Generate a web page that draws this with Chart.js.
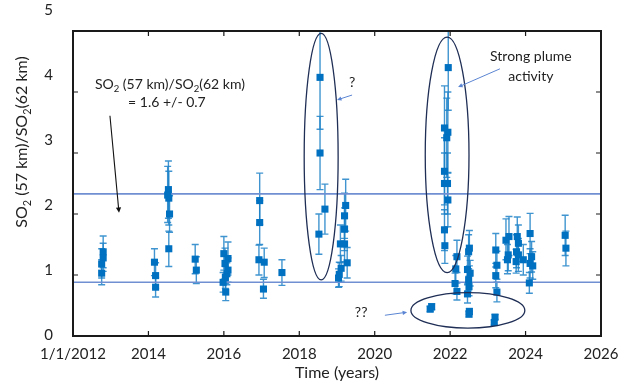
<!DOCTYPE html>
<html lang="en">
  <head>
    <meta charset="UTF-8" />
    <title>SO2 ratio 57 km / 62 km</title>
    <script src="https://cdn.jsdelivr.net/npm/chart.js"></script>
    <style>
      body { margin: 0; background: #fff; }
      canvas { display: block; }
    </style>
  </head>
  <body>
    <canvas id="ratio-chart" width="624" height="385"></canvas>

    <script>
      // observation time (decimal year), SO2 ratio, error bar bounds
      const years = [
        2012.80, 2012.80, 2012.76, 2012.76,
        2014.16, 2014.19, 2014.19,
        2014.53, 2014.51, 2014.54, 2014.56, 2014.54,
        2015.24, 2015.27,
        2016.00, 2016.11, 2016.03, 2016.11, 2016.08, 2016.04, 2015.98, 2016.05,
        2016.95, 2016.95, 2016.93, 2017.07, 2017.05,
        2017.54,
        2018.55, 2018.55, 2018.52, 2018.68,
        2019.23, 2019.20, 2019.20, 2019.09, 2019.20, 2019.27, 2019.11, 2019.06, 2019.04,
        2021.95, 2021.85, 2021.94, 2021.91, 2021.85, 2021.85, 2021.93, 2021.94, 2021.85, 2021.86,
        2022.18, 2022.15, 2022.13, 2022.18,
        2022.51, 2022.49, 2022.46, 2022.53, 2022.49, 2022.50, 2022.46,
        2023.21, 2023.24, 2023.21, 2023.24,
        2021.51, 2021.47, 2022.51, 2022.50, 2023.19, 2023.17,
        2023.48, 2023.52, 2023.54, 2023.56,
        2023.78, 2023.76, 2023.81, 2023.75, 2023.81,
        2023.94,
        2024.12, 2024.12, 2024.16, 2024.19, 2024.10,
        2025.05, 2025.07
      ];
      const ratio = [
        1.38, 1.28, 1.18, 1.03,
        1.21, 0.99, 0.80,
        2.40, 2.31, 2.26, 2.00, 1.43,
        1.26, 1.08,
        1.35, 1.27, 1.19, 1.08, 1.02, 0.96, 0.88, 0.72,
        2.22, 1.86, 1.25, 1.21, 0.77,
        1.04,
        4.24, 3.00, 1.67, 2.08,
        2.14, 1.97, 1.75, 1.51, 1.51, 1.20, 1.11, 1.01, 0.95,
        4.40, 3.41, 3.34, 3.25, 2.70, 2.50, 2.50, 2.23, 1.74, 1.48,
        1.30, 1.10, 0.86, 0.73,
        1.44, 1.38, 1.09, 1.03, 0.92, 0.81, 0.69,
        1.41, 1.16, 0.99, 0.72,
        0.48, 0.44, 0.40, 0.36, 0.31, 0.22,
        1.57, 1.25, 1.33, 1.63,
        1.63, 1.38, 1.52, 1.22, 1.33,
        1.25,
        1.68, 1.19, 1.30, 1.15, 0.87,
        1.65, 1.44
      ];
      const errLo = [
        1.12, 1.06, 0.95, 0.84,
        0.99, 0.78, 0.64,
        1.93, 1.86, 1.82, 1.70, 1.14,
        1.02, 0.86,
        1.08, 1.00, 0.94, 0.88, 0.84, 0.78, 0.72, 0.58,
        1.83, 1.50, 1.00, 0.96, 0.62,
        0.83,
        3.39, 2.40, 1.34, 1.67,
        1.72, 1.60, 1.40, 1.20, 1.22, 0.95, 0.90, 0.81, 0.80,
        3.70, 2.72, 2.68, 2.60, 2.15, 2.00, 2.00, 1.79, 1.40, 1.19,
        1.04, 0.88, 0.69, 0.59,
        1.15, 1.10, 0.87, 0.82, 0.74, 0.66, 0.54,
        1.13, 0.93, 0.79, 0.56,
        0.43, 0.40, 0.35, 0.31, 0.27, 0.18,
        1.25, 1.02, 1.07, 1.32,
        1.32, 1.12, 1.22, 1.03, 1.06,
        1.00,
        1.35, 0.95, 1.05, 0.93, 0.70,
        1.32, 1.15
      ];
      const errHi = [
        1.64, 1.52, 1.43, 1.25,
        1.43, 1.20, 0.96,
        2.87, 2.78, 2.70, 2.30, 1.72,
        1.50, 1.30,
        1.63, 1.54, 1.44, 1.28, 1.20, 1.14, 1.04, 0.86,
        2.67, 2.22, 1.49, 1.44, 0.93,
        1.25,
        5.20, 3.60, 2.00, 2.49,
        2.57, 2.34, 2.10, 1.82, 1.80, 1.45, 1.32, 1.21, 1.10,
        5.20, 4.10, 4.00, 3.90, 3.25, 3.00, 3.00, 2.67, 2.07, 1.78,
        1.57, 1.32, 1.03, 0.87,
        1.73, 1.66, 1.31, 1.24, 1.10, 0.98, 0.84,
        1.68, 1.39, 1.19, 0.88,
        0.53, 0.49, 0.45, 0.41, 0.35, 0.26,
        1.92, 1.50, 1.60, 1.96,
        1.95, 1.66, 1.82, 1.42, 1.60,
        1.50,
        2.01, 1.43, 1.55, 1.38, 1.04,
        1.98, 1.72
      ];

      // reference lines (1.6 +/- 0.7)
      const lineLevels = [0.88, 2.33];

      const xTicks = [2012, 2014, 2016, 2018, 2020, 2022, 2024, 2026];
      const yTicks = [0, 1, 2, 3, 4, 5];

      // ellipses round the groups: centre x, centre y, half-width (yr), half-height
      const ellipses = [
        [2018.58, 2.94, 0.45, 2.02],
        [2021.92, 2.97, 0.58, 1.93],
        [2022.47, 0.42, 1.51, 0.29]
      ];

      const FONT = "Lato, 'Liberation Sans', sans-serif";
      const TEXT = "#222";
      const BLUE = "#0070c0";

      const points = years.map((x, i) => ({ x: x, y: ratio[i] }));

      const datasets = [
        {
          type: "scatter",
          data: points,
          pointStyle: "rect",
          pointRadius: 5,
          backgroundColor: BLUE,
          borderColor: BLUE,
          borderWidth: 0,
          order: 1,
        },
      ];
      lineLevels.forEach((v) => {
        datasets.push({
          type: "line",
          data: [{ x: xTicks[0], y: v }, { x: xTicks[xTicks.length - 1], y: v }],
          borderColor: "#6f8fd2",
          borderWidth: 1.6,
          pointRadius: 0,
          order: 3,
        });
      });

      function subText(ctx, parts, x, y, size) {
        let w = 0;
        parts.forEach((p) => {
          ctx.font = (p[1] ? size * 0.68 : size) + "px " + FONT;
          w += ctx.measureText(p[0]).width;
        });
        let cx = x - w / 2;
        ctx.textAlign = "left";
        ctx.textBaseline = "middle";
        parts.forEach((p) => {
          ctx.font = (p[1] ? size * 0.68 : size) + "px " + FONT;
          ctx.fillText(p[0], cx, y + (p[1] ? size * 0.32 : 0));
          cx += ctx.measureText(p[0]).width;
        });
      }

      function arrow(ctx, x1, y1, x2, y2, color, width, head) {
        const a = Math.atan2(y2 - y1, x2 - x1);
        ctx.strokeStyle = color;
        ctx.fillStyle = color;
        ctx.lineWidth = width;
        ctx.beginPath();
        ctx.moveTo(x1, y1);
        ctx.lineTo(x2 - Math.cos(a) * head * 0.7, y2 - Math.sin(a) * head * 0.7);
        ctx.stroke();
        ctx.beginPath();
        ctx.moveTo(x2, y2);
        ctx.lineTo(x2 - head * Math.cos(a - 0.45), y2 - head * Math.sin(a - 0.45));
        ctx.lineTo(x2 - head * Math.cos(a + 0.45), y2 - head * Math.sin(a + 0.45));
        ctx.closePath();
        ctx.fill();
      }

      const ratioParts = [["SO", false], ["2", true], [" (57 km)/SO", false], ["2", true], ["(62 km)", false]];

      // error bars behind the markers
      const errorBars = {
        id: "errorBars",
        beforeDatasetsDraw(chart) {
          const { ctx, chartArea, scales } = chart;
          ctx.save();
          ctx.beginPath();
          ctx.rect(chartArea.left, chartArea.top, chartArea.width, chartArea.height);
          ctx.clip();
          ctx.strokeStyle = "rgba(30, 130, 200, 0.85)";
          ctx.lineWidth = 1.4;
          years.forEach((yr, i) => {
            const x = scales.x.getPixelForValue(yr);
            const lo = scales.y.getPixelForValue(errLo[i]);
            const hi = scales.y.getPixelForValue(errHi[i]);
            ctx.beginPath();
            ctx.moveTo(x, lo);
            ctx.lineTo(x, hi);
            ctx.moveTo(x - 3.5, lo);
            ctx.lineTo(x + 3.5, lo);
            ctx.moveTo(x - 3.5, hi);
            ctx.lineTo(x + 3.5, hi);
            ctx.stroke();
          });
          ctx.restore();
        },
      };

      // frame, inside tick marks, notes and the y title
      const decorations = {
        id: "decorations",
        afterDraw(chart) {
          const { ctx, chartArea: a, scales } = chart;
          const X = (v) => scales.x.getPixelForValue(v);
          const Y = (v) => scales.y.getPixelForValue(v);
          ctx.save();

          ctx.strokeStyle = "#1a1a1a";
          ctx.lineWidth = 2;
          ctx.strokeRect(a.left, a.top, a.width, a.height);
          ctx.lineWidth = 1.2;
          ctx.beginPath();
          xTicks.slice(1, -1).forEach((v) => {
            ctx.moveTo(X(v), a.bottom);
            ctx.lineTo(X(v), a.bottom - 5);
            ctx.moveTo(X(v), a.top);
            ctx.lineTo(X(v), a.top + 5);
          });
          yTicks.slice(1, -1).forEach((v) => {
            ctx.moveTo(a.left, Y(v));
            ctx.lineTo(a.left + 5, Y(v));
            ctx.moveTo(a.right, Y(v));
            ctx.lineTo(a.right - 5, Y(v));
          });
          ctx.stroke();

          ctx.strokeStyle = "#1f2e55";
          ctx.lineWidth = 1.3;
          ellipses.forEach((e) => {
            const cx = X(e[0]);
            const cy = Y(e[1]);
            const rx = X(e[0] + e[2]) - cx;
            const ry = cy - Y(e[1] + e[3]);
            ctx.beginPath();
            ctx.ellipse(cx, cy, rx, ry, 0, 0, Math.PI * 2);
            ctx.stroke();
          });

          ctx.fillStyle = TEXT;
          subText(ctx, ratioParts, X(2014.57), Y(4.13), 14);
          subText(ctx, [["= 1.6 +/- 0.7", false]], X(2014.49), Y(3.82), 14);
          subText(ctx, [["?", false]], X(2019.4), Y(4.15), 14);
          subText(ctx, [["Strong plume", false]], X(2024.14), Y(4.59), 14);
          subText(ctx, [["activity", false]], X(2024.14), Y(4.26), 14);
          subText(ctx, [["??", false]], X(2019.64), Y(0.38), 14);

          arrow(ctx, X(2012.98), Y(3.61), X(2013.22), Y(2.02), "#111", 1.1, 6);
          arrow(ctx, X(2019.4), Y(3.95), X(2019.0), Y(3.87), "#5b85d2", 1, 5);
          arrow(ctx, X(2023.32), Y(4.38), X(2022.21), Y(4.08), "#5b85d2", 1, 5);
          arrow(ctx, X(2020.27), Y(0.34), X(2020.86), Y(0.39), "#5b85d2", 1, 5);

          ctx.translate(22, 142);
          ctx.rotate(-Math.PI / 2);
          ctx.fillStyle = TEXT;
          subText(ctx, ratioParts, 0, 0, 16);
          ctx.restore();
        },
      };

      new Chart(document.getElementById("ratio-chart"), {
        data: { datasets: datasets },
        options: {
          responsive: false,
          animation: false,
          devicePixelRatio: 1,
          layout: { padding: { top: 31, right: 23, left: 0, bottom: 0 } },
          plugins: { legend: { display: false }, tooltip: { enabled: false } },
          scales: {
            x: {
              type: "linear",
              min: xTicks[0],
              max: xTicks[xTicks.length - 1],
              afterBuildTicks: (s) => { s.ticks = xTicks.map((v) => ({ value: v })); },
              ticks: {
                autoSkip: false,
                maxRotation: 0,
                padding: 1,
                color: TEXT,
                font: { family: FONT, size: 15 },
                callback: (v) => (v === 2012 ? "1/1/2012" : String(v)),
              },
              grid: { display: false },
              border: { display: false },
              title: {
                display: true,
                text: "Time (years)",
                color: TEXT,
                font: { family: FONT, size: 16 },
                padding: { top: 0, bottom: 3 },
              },
              afterFit: (s) => { s.height = 49; },
            },
            y: { type: "linear", min: 0, max: 5, display: false },
            // label axis: the printed labels sit on a slightly wider spacing than the ticks
            yLabels: {
              axis: "y",
              type: "linear",
              position: "left",
              min: -0.0154,
              max: 4.677,
              afterBuildTicks: (s) => { s.ticks = yTicks.map((v) => ({ value: v })); },
              ticks: {
                autoSkip: false,
                padding: 12,
                color: TEXT,
                font: { family: FONT, size: 15 },
              },
              grid: { display: false },
              border: { display: false },
              afterFit: (s) => { s.width = 73; },
            },
          },
        },
        plugins: [errorBars, decorations],
      });
    </script>
  </body>
</html>
